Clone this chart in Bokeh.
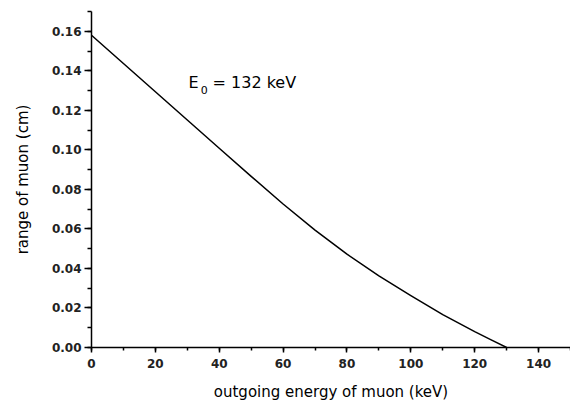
from bokeh.plotting import figure
from bokeh.models import Range1d, FixedTicker, NumeralTickFormatter, Label
from bokeh.embed import file_html
from bokeh.resources import INLINE

# data
energy = [0, 10, 20, 30, 40, 50, 60, 70, 80, 90, 100, 110, 120, 125, 130]
muon_range = [0.158, 0.1437, 0.1294, 0.1151, 0.1008, 0.0866, 0.0726, 0.0594,
              0.0472, 0.0362, 0.0262, 0.0166, 0.0080, 0.0040, 0.0]
x_ticks = [0, 20, 40, 60, 80, 100, 120, 140]
x_minor = [0, 10, 20, 30, 40, 50, 60, 70, 80, 90, 100, 110, 120, 130, 140, 150]
y_ticks = [0.00, 0.02, 0.04, 0.06, 0.08, 0.10, 0.12, 0.14, 0.16]
y_minor = [0.00, 0.01, 0.02, 0.03, 0.04, 0.05, 0.06, 0.07, 0.08, 0.09, 0.10,
           0.11, 0.12, 0.13, 0.14, 0.15, 0.16, 0.17]

FONT = "DejaVu Sans"

p = figure(width=570, height=403, output_backend="svg", toolbar_location=None,
           x_range=Range1d(0, 150), y_range=Range1d(0, 0.17),
           min_border_left=91, min_border_right=0, min_border_top=11,
           min_border_bottom=51)
p.outline_line_color = None
p.xgrid.visible = False
p.ygrid.visible = False
p.background_fill_color = "white"
p.border_fill_color = "white"

p.line(energy, muon_range, line_color="black", line_width=1.5,
       line_join="round")

for ax in (p.xaxis[0], p.yaxis[0]):
    ax.axis_line_color = "black"
    ax.axis_line_width = 1.5
    ax.major_tick_line_color = "black"
    ax.major_tick_line_width = 1.5
    ax.minor_tick_line_color = "black"
    ax.minor_tick_line_width = 1.5
    ax.major_tick_in = 0
    ax.minor_tick_in = 0
    ax.major_label_text_font = FONT
    ax.major_label_text_font_size = "12px"
    ax.major_label_text_font_style = "bold"
    ax.major_label_text_color = "#222222"
    ax.axis_label_text_font = FONT
    ax.axis_label_text_font_size = "15px"
    ax.axis_label_text_font_style = "normal"
    ax.axis_label_text_color = "black"

p.xaxis.ticker = FixedTicker(ticks=x_ticks, minor_ticks=x_minor)
p.yaxis.ticker = FixedTicker(ticks=y_ticks, minor_ticks=y_minor)
p.yaxis.formatter = NumeralTickFormatter(format="0.00")
p.xaxis.major_tick_out = 5
p.xaxis.minor_tick_out = 3
p.yaxis.major_tick_out = 7
p.yaxis.minor_tick_out = 4
p.xaxis.major_label_standoff = 6
p.yaxis.major_label_standoff = 3
p.xaxis.axis_label = "outgoing energy of muon (keV)"
p.yaxis.axis_label = "range of muon (cm)"
p.xaxis.axis_label_standoff = 12
p.yaxis.axis_label_standoff = 17

# annotation E0 = 132 keV
p.add_layout(Label(x=30.4, y=0.134, text="E", text_font=FONT,
                   text_font_size="16px", text_color="black",
                   text_baseline="alphabetic"))
p.add_layout(Label(x=34.2, y=0.1303, text="0", text_font=FONT,
                   text_font_size="11px", text_color="black",
                   text_baseline="alphabetic"))
p.add_layout(Label(x=37.9, y=0.134, text="= 132 keV", text_font=FONT,
                   text_font_size="16px", text_color="black",
                   text_baseline="alphabetic"))

open("out.html", "w").write(file_html(p, INLINE))
